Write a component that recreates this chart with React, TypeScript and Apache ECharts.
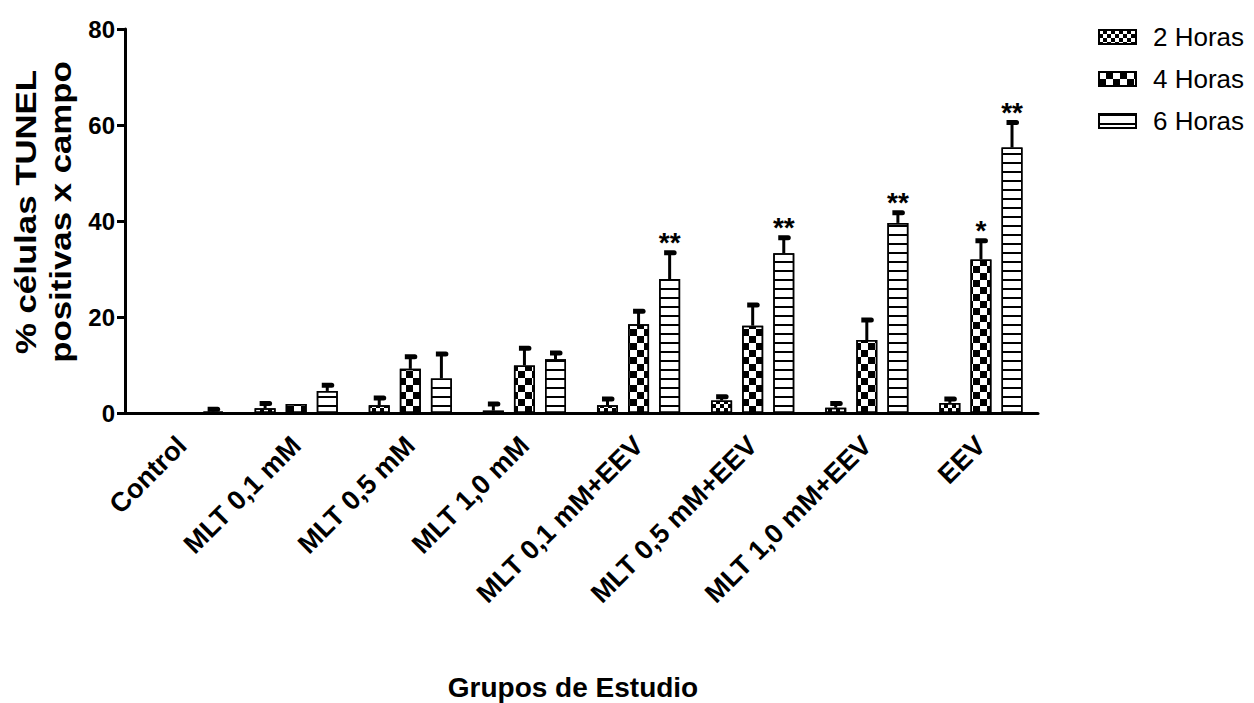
import React, { useEffect, useRef } from "react";
import * as echarts from "echarts";

const categories = [
  "Control",
  "MLT 0,1 mM",
  "MLT 0,5 mM",
  "MLT 1,0 mM",
  "MLT 0,1 mM+EEV",
  "MLT 0,5 mM+EEV",
  "MLT 1,0 mM+EEV",
  "EEV",
];
const seriesNames = ["2 Horas", "4 Horas", "6 Horas"];
const mean2h = [0, 1.0, 1.6, 0.5, 1.6, 2.6, 1.1, 2.1];
const err2h = [0, 1.0, 1.5, 1.4, 1.3, 0.8, 0.9, 0.8];
const mean4h = [0, 1.9, 9.2, 9.9, 18.5, 18.2, 15.2, 32.0];
const err4h = [0, 0, 2.5, 3.6, 2.7, 4.3, 4.2, 3.9];
const mean6h = [0.3, 4.6, 7.2, 11.2, 27.9, 33.3, 39.6, 55.3];
const err6h = [0.5, 1.2, 5.1, 1.3, 5.5, 3.2, 2.1, 5.2];
const sig2h = ["", "", "", "", "", "", "", ""];
const sig4h = ["", "", "", "", "", "", "", "*"];
const sig6h = ["", "", "", "", "**", "**", "**", "**"];
const yMin = 0;
const yMax = 80;
const yStep = 20;

const FONT = "'Liberation Sans', Arial, sans-serif";
const BAR_W = 21;
const BAR_GAP = 0.48;
const STRIDE = BAR_W * (1 + BAR_GAP);

const decals = [
  {
    symbol: "rect",
    symbolSize: 1,
    symbolKeepAspect: false,
    color: "#000",
    dashArrayX: [
      [3.5, 3.5],
      [0, 3.5, 3.5, 0],
    ],
    dashArrayY: [3.5, 0],
  },
  {
    symbol: "rect",
    symbolSize: 1,
    symbolKeepAspect: false,
    color: "#000",
    dashArrayX: [
      [7, 7],
      [0, 7, 7, 0],
    ],
    dashArrayY: [7, 0],
  },
  {
    symbol: "rect",
    symbolSize: 1,
    symbolKeepAspect: false,
    color: "#000",
    dashArrayX: [1, 0],
    dashArrayY: [1.6, 6.4],
  },
];

function makeBar(name: string, values: number[], k: number) {
  return {
    name,
    type: "bar",
    data: values,
    barWidth: BAR_W,
    barGap: `${BAR_GAP * 100}%`,
    itemStyle: {
      color: "#fff",
      borderColor: "#000",
      borderWidth: 1.5,
      decal: decals[k],
    },
    emphasis: { disabled: true },
  };
}

function makeErr(means: number[], errs: number[], sigs: string[], k: number) {
  return {
    name: `err${k}`,
    type: "custom",
    z: 5,
    silent: true,
    data: means.map((m, i) => [i, m, errs[i]]),
    renderItem: (params: any, api: any) => {
      const i = api.value(0);
      const m = api.value(1);
      const e = api.value(2);
      const sig = sigs[params.dataIndex];
      const base = api.coord([i, m]);
      const top = api.coord([i, m + e]);
      const x = base[0] + (k - 1) * STRIDE;
      const children: any[] = [];
      if (e > 0) {
        children.push({
          type: "line",
          shape: { x1: x, y1: base[1], x2: x, y2: top[1] },
          style: { stroke: "#000", lineWidth: 3 },
        });
        children.push({
          type: "rect",
          shape: { x: x - 5.5, y: top[1] - 2.5, width: 12.5, height: 5, r: [0, 2.5, 2.5, 0] },
          style: { fill: "#000" },
        });
      }
      if (sig) {
        children.push({
          type: "text",
          x: x,
          y: top[1] + 4,
          style: {
            text: sig,
            fontSize: 28,
            fontWeight: "bold",
            fontFamily: FONT,
            fill: "#000",
            align: "center",
            verticalAlign: "bottom",
          },
        });
      }
      return { type: "group", children };
    },
  };
}

export default function App() {
  const ref = useRef<HTMLDivElement>(null);
  useEffect(() => {
    if (!ref.current) return;
    const chart = echarts.init(ref.current, undefined, { renderer: "svg" });
    chart.setOption({
      animation: false,
      backgroundColor: "#fff",
      grid: { left: 125, right: 216, top: 29, bottom: 290 },
      legend: {
        data: seriesNames,
        orient: "vertical",
        left: 1093,
        top: 19,
        itemWidth: 37,
        itemHeight: 14,
        itemGap: 16,
        icon: "rect",
        selectedMode: false,
        textStyle: { fontSize: 26, fontFamily: FONT, color: "#000", padding: [0, 0, 0, 12] },
      },
      xAxis: {
        type: "category",
        data: categories,
        axisLine: { lineStyle: { color: "#000", width: 3 } },
        axisTick: { alignWithLabel: true, length: 9, lineStyle: { color: "#000", width: 3 } },
        axisLabel: {
          rotate: 45,
          interval: 0,
          fontSize: 27,
          fontWeight: "bold",
          fontFamily: FONT,
          color: "#000",
          margin: 28,
        },
      },
      yAxis: {
        type: "value",
        min: yMin,
        max: yMax,
        interval: yStep,
        axisLine: { show: true, lineStyle: { color: "#000", width: 3 } },
        axisTick: { show: true, length: 8, lineStyle: { color: "#000", width: 3 } },
        splitLine: { show: false },
        axisLabel: {
          fontSize: 24,
          fontWeight: "bold",
          fontFamily: FONT,
          color: "#000",
          margin: 10,
        },
      },
      graphic: [
        {
          type: "text",
          x: 26,
          y: 212,
          rotation: Math.PI / 2,
          scaleX: 1.2,
          style: {
            text: "% células TUNEL",
            fontSize: 29,
            fontWeight: "bold",
            fontFamily: FONT,
            fill: "#000",
            align: "center",
            verticalAlign: "middle",
          },
        },
        {
          type: "text",
          x: 61,
          y: 212,
          rotation: Math.PI / 2,
          scaleX: 1.2,
          style: {
            text: "positivas x campo",
            fontSize: 29,
            fontWeight: "bold",
            fontFamily: FONT,
            fill: "#000",
            align: "center",
            verticalAlign: "middle",
          },
        },
        {
          type: "text",
          x: 573,
          y: 687,
          style: {
            text: "Grupos de Estudio",
            fontSize: 28,
            fontWeight: "bold",
            fontFamily: FONT,
            fill: "#000",
            align: "center",
            verticalAlign: "middle",
          },
        },
      ],
      series: [
        makeBar(seriesNames[0], mean2h, 0),
        makeBar(seriesNames[1], mean4h, 1),
        makeBar(seriesNames[2], mean6h, 2),
        makeErr(mean2h, err2h, sig2h, 0),
        makeErr(mean4h, err4h, sig4h, 1),
        makeErr(mean6h, err6h, sig6h, 2),
      ],
    });
    return () => chart.dispose();
  }, []);
  return (
    <div
      ref={ref}
      style={{ position: "absolute", left: 0, top: 0, width: 1254, height: 703, background: "#fff" }}
    />
  );
}
